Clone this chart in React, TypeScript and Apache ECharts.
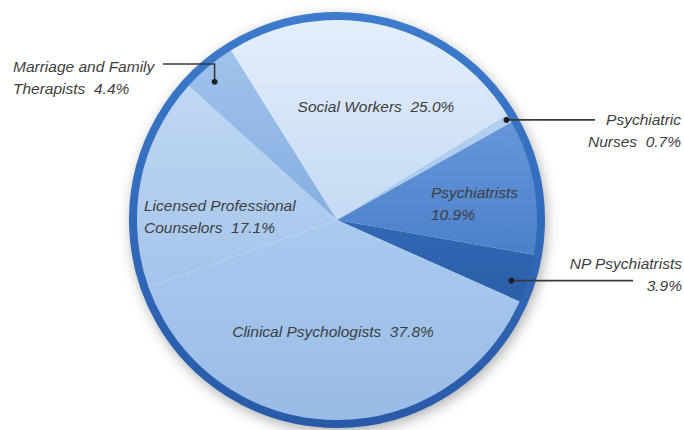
import React, { useEffect, useRef } from 'react';
import * as echarts from 'echarts';

// ---- data ----
const categories = [
  'Social Workers',
  'Psychiatric Nurses',
  'Psychiatrists',
  'NP Psychiatrists',
  'Clinical Psychologists',
  'Licensed Professional Counselors',
  'Marriage and Family Therapists',
];
const values = [25.0, 0.7, 10.9, 3.9, 37.8, 17.1, 4.4];
// how each label is broken into lines ({v} = value)
const labelTemplates = [
  'Social Workers  {v}',
  'Psychiatric\nNurses  {v}',
  'Psychiatrists\n{v}',
  'NP Psychiatrists\n{v}',
  'Clinical Psychologists  {v}',
  'Licensed Professional\nCounselors  {v}',
  'Marriage and Family\nTherapists  {v}',
];

// ---- styling / layout ----
const sliceColors: [string, string][] = [
  ['#e4effb', '#c5daf3'],
  ['#b3d0f0', '#a6c6ed'],
  ['#6797d9', '#4a80cb'],
  ['#3169b5', '#2a5ea8'],
  ['#aacaef', '#98bbe7'],
  ['#c0d8f3', '#a5c4eb'],
  ['#a0c3eb', '#85afe2'],
];
const CX = 337;
const CY = 220;
const R = 204;
const START = 122;
const FONT = "'Liberation Sans', Arial, sans-serif";
const labelPos: { x: number; y: number; align: 'left' | 'right' | 'center' }[] = [
  { x: 376, y: 106, align: 'center' },
  { x: 681, y: 130, align: 'right' },
  { x: 431, y: 203, align: 'left' },
  { x: 682, y: 274, align: 'right' },
  { x: 333, y: 331, align: 'center' },
  { x: 144, y: 216, align: 'left' },
  { x: 13, y: 77, align: 'left' },
];

export default function App() {
  const ref = useRef<HTMLDivElement>(null);
  useEffect(() => {
    const chart = echarts.init(ref.current!, null, { renderer: 'svg' });
    const total = values.reduce((a, b) => a + b, 0);
    const starts: number[] = [];
    let acc = START;
    values.forEach((v) => {
      starts.push(acc);
      acc -= (360 * v) / total;
    });
    const anchor = (i: number, frac: number, rf: number) => {
      const a = ((starts[i] - (frac * 360 * values[i]) / total) * Math.PI) / 180;
      return [CX + rf * R * Math.cos(a), CY - rf * R * Math.sin(a)];
    };
    const dM = anchor(6, 0.4, 0.905);
    const dN = anchor(1, 0.5, 0.965);
    const dP = anchor(3, 0.65, 0.905);
    const lineStyle = { stroke: '#3a3a3a', lineWidth: 1.6 };
    const dotStyle = { fill: '#1e1e1e' };

    const data = categories.map((name, i) => ({
      name,
      value: values[i],
      itemStyle: {
        color: new echarts.graphic.LinearGradient(0, 0, 0, 1, [
          { offset: 0, color: sliceColors[i][0] },
          { offset: 1, color: sliceColors[i][1] },
        ]),
      },
    }));

    chart.setOption({
      animation: false,
      series: [
        {
          type: 'pie',
          silent: true,
          center: [CX, CY],
          radius: R + 3,
          z: 1,
          label: { show: false },
          labelLine: { show: false },
          itemStyle: {
            color: '#ffffff',
            shadowBlur: 14,
            shadowColor: 'rgba(0,0,0,0.35)',
            shadowOffsetX: 2,
            shadowOffsetY: 4,
          },
          data: [{ value: 1 }],
        },
        {
          type: 'pie',
          center: [CX, CY],
          radius: R,
          startAngle: START,
          clockwise: true,
          z: 2,
          avoidLabelOverlap: false,
          itemStyle: { borderWidth: 0 },
          label: {
            show: true,
            position: 'inside',
            fontFamily: FONT,
            fontStyle: 'italic',
            fontSize: 15.5,
            lineHeight: 22,
            color: '#3e3e3e',
            formatter: (p: any) =>
              labelTemplates[p.dataIndex].replace('{v}', values[p.dataIndex].toFixed(1) + '%'),
          },
          labelLine: { show: false },
          labelLayout: (p: any) => {
            const lp = labelPos[p.dataIndex];
            return { x: lp.x, y: lp.y, align: lp.align, verticalAlign: 'middle' };
          },
          data,
        },
        {
          type: 'pie',
          silent: true,
          center: [CX, CY],
          radius: R,
          z: 3,
          label: { show: false },
          labelLine: { show: false },
          itemStyle: {
            color: 'rgba(0,0,0,0)',
            borderWidth: 8,
            borderColor: new echarts.graphic.LinearGradient(0, 0, 0, 1, [
              { offset: 0, color: '#3c7bcd' },
              { offset: 1, color: '#285aa8' },
            ]),
          },
          data: [{ value: 1 }],
        },
      ],
      graphic: [
        { type: 'polyline', z: 10, shape: { points: [[163, 64], [dM[0], 64], dM] }, style: { ...lineStyle, fill: null } },
        { type: 'circle', z: 10, shape: { cx: dM[0], cy: dM[1], r: 3 }, style: dotStyle },
        { type: 'line', z: 10, shape: { x1: dN[0], y1: dN[1], x2: 595, y2: dN[1] }, style: lineStyle },
        { type: 'circle', z: 10, shape: { cx: dN[0], cy: dN[1], r: 3 }, style: dotStyle },
        { type: 'line', z: 10, shape: { x1: dP[0], y1: dP[1], x2: 633, y2: dP[1] }, style: lineStyle },
        { type: 'circle', z: 10, shape: { cx: dP[0], cy: dP[1], r: 3 }, style: dotStyle },
      ],
    });
    return () => chart.dispose();
  }, []);
  return (
    <div
      ref={ref}
      style={{ position: 'fixed', left: 0, top: 0, width: 684, height: 430, background: '#ffffff' }}
    />
  );
}
